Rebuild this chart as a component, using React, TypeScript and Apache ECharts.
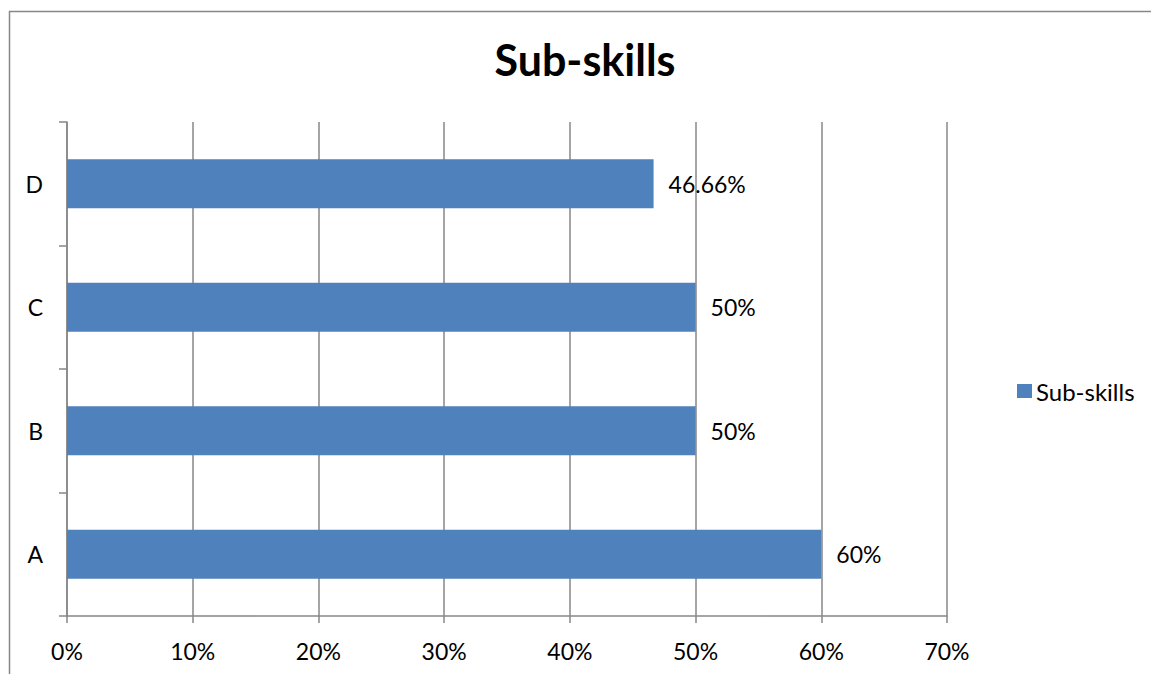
import React, { useEffect, useRef } from "react";
import * as echarts from "echarts";

const categories = ["A", "B", "C", "D"];
const seriesName = "Sub-skills";
const values = [60, 50, 50, 46.66];
const valueLabels = ["60%", "50%", "50%", "46.66%"];
const titleText = "Sub-skills";

const FONT = "Lato, 'Open Sans', sans-serif";
const GRID_COLOR = "#878787";
const BAR_COLOR = "#4F81BD";

export default function App() {
  const ref = useRef<HTMLDivElement>(null);
  useEffect(() => {
    if (!ref.current) return;
    const chart = echarts.init(ref.current, undefined, { renderer: "svg" });
    chart.setOption({
      animation: false,
      backgroundColor: "#ffffff",
      textStyle: { fontFamily: FONT },
      title: {
        text: titleText,
        left: 580,
        textAlign: "center",
        top: 33,
        textStyle: { fontFamily: FONT, fontWeight: "bold", fontSize: 43, color: "#000" },
      },
      legend: {
        data: [seriesName],
        orient: "vertical",
        left: 1012,
        top: 374,
        itemWidth: 15,
        itemHeight: 14,
        itemGap: 8,
        icon: "rect",
        textStyle: { fontFamily: FONT, fontSize: 24, color: "#000", padding: [0, 0, 0, -1] },
      },
      graphic: [
        {
          type: "rect",
          shape: { x: 9.5, y: 11.5, width: 1300, height: 800 },
          style: { fill: "none", stroke: GRID_COLOR, lineWidth: 1.5 },
          silent: true,
          z: 100,
        },
      ],
      grid: { left: 67, right: 204, top: 122, bottom: 58, containLabel: false },
      xAxis: {
        type: "value",
        min: 0,
        max: 70,
        interval: 10,
        axisLine: { show: true, lineStyle: { color: GRID_COLOR, width: 1.5 } },
        axisTick: { show: true, length: 7, lineStyle: { color: GRID_COLOR, width: 1.5 } },
        splitLine: { show: true, lineStyle: { color: GRID_COLOR, width: 1.5 } },
        axisLabel: {
          formatter: "{value}%",
          fontFamily: FONT,
          fontSize: 23,
          color: "#000",
          margin: 23,
        },
      },
      yAxis: {
        type: "category",
        data: categories,
        axisLine: { show: true, lineStyle: { color: GRID_COLOR, width: 1.5 } },
        axisTick: { show: true, length: 8, lineStyle: { color: GRID_COLOR, width: 1.5 } },
        axisLabel: { fontFamily: FONT, fontSize: 23, color: "#000", margin: 24 },
      },
      series: [
        {
          name: seriesName,
          type: "bar",
          data: values,
          barWidth: 49,
          itemStyle: { color: BAR_COLOR },
          label: {
            show: true,
            position: "right",
            distance: 15,
            fontFamily: FONT,
            fontSize: 23,
            color: "#000",
            formatter: (p: any) => valueLabels[p.dataIndex],
          },
          z: 3,
        },
      ],
    });
    return () => chart.dispose();
  }, []);
  return (
    <div
      ref={ref}
      style={{ position: "fixed", left: 0, top: 0, width: 1151, height: 674, background: "#fff" }}
    />
  );
}
